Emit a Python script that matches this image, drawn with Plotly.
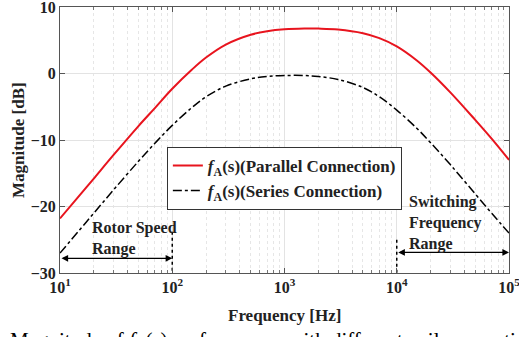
import math
import plotly.graph_objects as go

# ---- data ----
freq_hz = [10, 15, 20, 30, 50, 70, 100, 150, 200, 300, 500, 700, 1000, 1500,
           2000, 3000, 5000, 7000, 10000, 15000, 20000, 30000, 50000, 70000, 100000]
parallel_db = [-21.8, -18.3, -15.8, -12.25, -7.9, -5.2, -2.3, 0.6, 2.4, 4.35, 5.83,
               6.35, 6.64, 6.76, 6.75, 6.62, 6.06, 5.32, 4.08, 2.0, 0.15, -2.84,
               -6.98, -9.8, -13.0]
series_db = [-27.0, -23.5, -21.0, -17.5, -13.2, -10.5, -7.8, -5.1, -3.5, -1.9, -0.8,
             -0.45, -0.3, -0.3, -0.45, -0.9, -2.1, -3.5, -5.5, -8.2, -10.4, -13.7,
             -18.1, -21.0, -24.0]
x_tickvals = [10, 100, 1000, 10000, 100000]
x_ticktext = ["10<sup>1</sup>", "10<sup>2</sup>", "10<sup>3</sup>", "10<sup>4</sup>", "10<sup>5</sup>"]
y_tickvals = [-30, -20, -10, 0, 10]
rotor_range_hz = [10, 100]
switch_range_hz = [10000, 100000]
rotor_marker = ([100, 100], [-23.8, -30])
switch_marker = ([10000, 10000], [-25.0, -30])
rotor_arrow_db = -27.8
switch_arrow_db = -26.9

FONT = "Liberation Serif"

fig = go.Figure()
fig.add_trace(go.Scatter(
    x=freq_hz, y=parallel_db, mode="lines", line=dict(color="#e8141e", width=2, shape="spline", smoothing=1.0),
    name="<i>f</i><sub>A</sub>(s)(Parallel Connection)"))
fig.add_trace(go.Scatter(
    x=freq_hz, y=series_db, mode="lines", line=dict(color="black", width=1.5, dash="dashdot", shape="spline", smoothing=1.0),
    name="<i>f</i><sub>A</sub>(s)(Series Connection)"))
for xs, ys in (rotor_marker, switch_marker):
    fig.add_trace(go.Scatter(x=xs, y=ys, mode="lines", showlegend=False,
                             line=dict(color="black", width=1.5, dash="dot")))

ann = []
for (x0, x1), yv in ((rotor_range_hz, rotor_arrow_db), (switch_range_hz, switch_arrow_db)):
    ann.append(dict(x=math.log10(x1), y=yv, ax=math.log10(x0), ay=yv, xref="x", yref="y",
                    axref="x", ayref="y", text="", showarrow=True, arrowhead=2, arrowside="end+start",
                    arrowsize=1.2, arrowwidth=1.1, arrowcolor="black", standoff=0, startstandoff=0))
ann.append(dict(x=0.067, y=0.13, xref="paper", yref="paper", xanchor="left", yanchor="middle",
                align="left", showarrow=False, text="Rotor Speed<br>Range",
                font=dict(family=FONT, size=16, color="#222", weight="bold")))
ann.append(dict(x=0.773, y=0.188, xref="paper", yref="paper", xanchor="left", yanchor="middle",
                align="left", showarrow=False, text="Switching<br>Frequency<br>Range",
                font=dict(family=FONT, size=16, color="#222", weight="bold")))
ann.append(dict(x=-0.0935, y=0.5, xref="paper", yref="paper", xanchor="center", yanchor="middle",
                textangle=-90, showarrow=False,
                text="Magnitude [dB]", font=dict(family=FONT, size=17, color="#222", weight="bold")))
ann.append(dict(x=0.5, y=-0.158, xref="paper", yref="paper", showarrow=False, yanchor="middle",
                text="Frequency [Hz]", font=dict(family=FONT, size=17, color="#222", weight="bold")))
ann.append(dict(x=-0.116, y=-0.199, xref="paper", yref="paper", xanchor="left", yanchor="top",
                showarrow=False,
                text="Magnitude of <i>f</i><sub>A</sub>(s) on frequency with different coil connections.",
                font=dict(family=FONT, size=21, color="black", weight="normal")))

fig.update_layout(
    width=519, height=337, margin=dict(l=60, r=10, t=7, b=64, autoexpand=False),
    paper_bgcolor="white", plot_bgcolor="white",
    font=dict(family=FONT, size=16, color="#222", weight="bold"),
    showlegend=True,
    legend=dict(x=0.238, y=0.474, xanchor="left", yanchor="top", bgcolor="white",
                bordercolor="#333", borderwidth=1, font=dict(family=FONT, size=17, color="#222", weight="bold"),
                itemwidth=30, tracegroupgap=0),
    annotations=ann,
)
fig.update_xaxes(type="log", range=[1, 5], tickvals=x_tickvals, ticktext=x_ticktext,
                 ticks="inside", ticklen=5, tickcolor="#555", showline=True, linecolor="#555",
                 mirror="ticks", showgrid=True, gridcolor="#e3e3e3", gridwidth=1,
                 ticklabeloverflow="allow", automargin=False,
                 minor=dict(ticks="inside", ticklen=3, tickcolor="#777", showgrid=True,
                            gridcolor="#e6e6e6", griddash="dot", dtick="D1"),
                 tickfont=dict(family=FONT, size=16, color="#222", weight="bold"), zeroline=False)
fig.update_yaxes(range=[-30, 10], tickvals=y_tickvals, ticks="inside", ticklen=5, tickcolor="#555",
                 showline=True, linecolor="#555", mirror="ticks", showgrid=True,
                 gridcolor="#e3e3e3", zeroline=False, ticklabeloverflow="allow", automargin=False,
                 tickfont=dict(family=FONT, size=16, color="#222", weight="bold"))

fig.write_html("out.html")
